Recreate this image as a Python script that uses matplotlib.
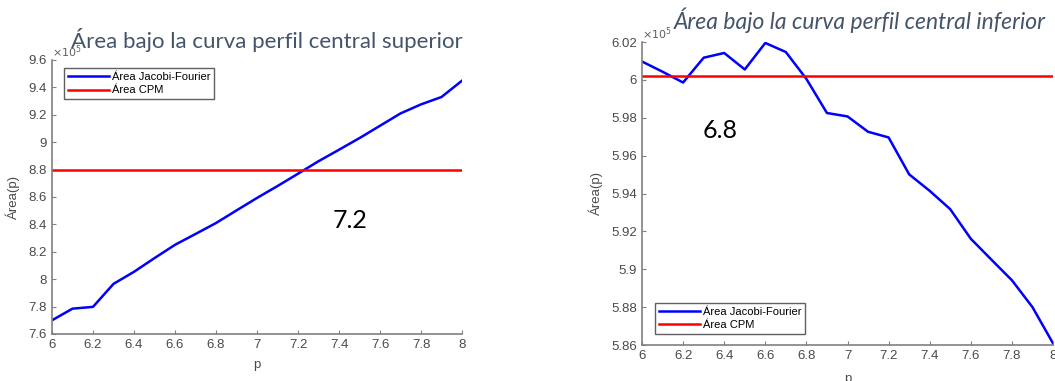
import numpy as np
import matplotlib
matplotlib.use("Agg")
import matplotlib.pyplot as plt

# perfil central superior
p = np.round(np.arange(6.0, 8.01, 0.1), 1)
area_sup = [7.70, 7.785, 7.798, 7.966, 8.054, 8.154, 8.251, 8.33, 8.41, 8.502, 8.593,
            8.68, 8.77, 8.861, 8.945, 9.03, 9.12, 9.21, 9.276, 9.33, 9.449]
cpm_sup = 8.795

# perfil central inferior
area_inf = [6.0097, 6.0043, 5.9986, 6.0117, 6.0142, 6.0055, 6.0195, 6.0147, 6.0005, 5.9825, 5.9807,
            5.9726, 5.9696, 5.9501, 5.9414, 5.9317, 5.9161, 5.9051, 5.8942, 5.8800, 5.8609]
cpm_inf = 6.0018

W, H = 1055, 381
fig = plt.figure(figsize=(W / 100, H / 100), dpi=100)
plt.rcParams['font.family'] = ['Liberation Sans', 'DejaVu Sans']


def box(x0, y0, x1, y1):
    return [x0 / W, 1 - y1 / H, (x1 - x0) / W, (y1 - y0) / H]


def style_axes(ax):
    for s in ['top', 'right']:
        ax.spines[s].set_visible(False)
    for s in ['left', 'bottom']:
        ax.spines[s].set_color('#808080')
        ax.spines[s].set_linewidth(1.2)
    ax.tick_params(direction='in', length=3, colors='#808080', labelcolor='#4a4a4a', labelsize=9.5)
    ax.set_xlim(6, 8)
    ax.set_xticks(np.arange(6, 8.01, 0.2))
    ax.set_xticklabels(['6', '6.2', '6.4', '6.6', '6.8', '7', '7.2', '7.4', '7.6', '7.8', '8'])


leg_kw = dict(fontsize=8, frameon=True, fancybox=False, edgecolor='#606060', handlelength=3.7,
              borderpad=0.35, labelspacing=0.3, handletextpad=0.25, framealpha=1, borderaxespad=0)

# left panel
ax1 = fig.add_axes(box(52, 60, 462, 334))
ax1.plot(p, area_sup, color='#0000ff', lw=1.8, label='Área Jacobi-Fourier')
ax1.axhline(cpm_sup, color='#ff0000', lw=1.8, label='Área CPM')
style_axes(ax1)
ax1.set_ylim(7.6, 9.6)
ax1.set_yticks(np.arange(7.6, 9.61, 0.2))
ax1.set_yticklabels(['7.6', '7.8', '8', '8.2', '8.4', '8.6', '8.8', '9', '9.2', '9.4', '9.6'])
ax1.set_xlabel('p', fontsize=9.5, color='#4a4a4a', labelpad=6)
ax1.set_ylabel('Área(p)', fontsize=9.5, color='#4a4a4a', labelpad=6)
ax1.text(0.0, 1.0, r'$\times10^5$', transform=ax1.transAxes, fontsize=8, color='#606060',
         ha='left', va='bottom')
ax1.legend(loc='upper left', bbox_to_anchor=(0.03, 0.97), **leg_kw)
ax1.text(350, H - 220, '7.2', transform=None, fontsize=18, family='Lato', ha='center', va='center')
fig.text(267 / W, 1 - 40 / H, 'Área bajo la curva perfil central superior', fontsize=16,
         family='Lato', color='#44546a', ha='center', va='center')

# right panel
ax2 = fig.add_axes(box(642, 42, 1053, 345))
ax2.plot(p, area_inf, color='#0000ff', lw=1.8, label='Área Jacobi-Fourier')
ax2.axhline(cpm_inf, color='#ff0000', lw=1.8, label='Área CPM')
style_axes(ax2)
ax2.set_ylim(5.86, 6.02)
ax2.set_yticks(np.arange(5.86, 6.021, 0.02))
ax2.set_yticklabels(['5.86', '5.88', '5.9', '5.92', '5.94', '5.96', '5.98', '6', '6.02'])
ax2.set_xlabel('p', fontsize=9.5, color='#4a4a4a', labelpad=8)
ax2.set_ylabel('Área(p)', fontsize=9.5, color='#4a4a4a', labelpad=6)
ax2.text(0.0, 1.0, r'$\times10^5$', transform=ax2.transAxes, fontsize=8, color='#606060',
         ha='left', va='bottom')
ax2.legend(loc='lower left', bbox_to_anchor=(0.032, 0.036), **leg_kw)
ax2.text(720, H - 130, '6.8', transform=None, fontsize=18, family='Lato', ha='center', va='center')
fig.text(860 / W, 1 - 20 / H, 'Área bajo la curva perfil central inferior', fontsize=16.5,
         family='Lato', style='italic', color='#44546a', ha='center', va='center')

fig.savefig('out.png', dpi=100)
